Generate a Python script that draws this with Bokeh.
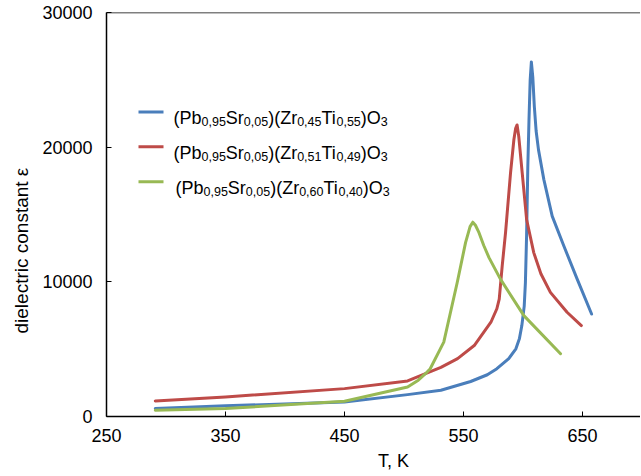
import math
from bokeh.plotting import figure
from bokeh.models import Label, Span, FixedTicker, Range1d, Title
from bokeh.embed import file_html
from bokeh.resources import INLINE

# ---- data ----
blue_T = [291, 350, 450, 503, 531, 556, 570, 578, 588, 594, 597, 599, 601, 602, 603, 604,
          605, 606, 607, 608.2, 609.5, 611, 613, 617.5, 624.5, 634.3, 645.5, 657.6]
blue_eps = [590, 790, 1085, 1625, 1945, 2600, 3100, 3550, 4300, 5030, 5800, 6750, 8200, 9960,
            13500, 18500, 22000, 25000, 26330, 25200, 23000, 21200, 19800, 17590, 14880,
            12660, 10200, 7610]

red_T = [291, 350, 450, 503, 518, 531, 545, 559, 573, 578, 580, 582.5, 585.3, 589.5, 592.3,
         593.8, 595, 596.4, 599.3, 603, 609, 615, 623, 637, 649]
red_eps = [1160, 1455, 2070, 2640, 3180, 3650, 4300, 5270, 7000, 8000, 8720, 11180, 13650,
           18100, 20550, 21400, 21650, 20800, 18090, 14630, 12170, 10600, 9220, 7740, 6750]

green_T = [291, 350, 450, 503, 512, 518, 522, 533.4, 544.7, 551.7, 555.5, 557.8, 560, 563,
           567, 571.4, 581, 600.7, 631.5]
green_eps = [465, 590, 1130, 2190, 2700, 3180, 3550, 5520, 9950, 12910, 14100, 14430, 14200,
             13650, 12700, 11800, 10200, 7490, 4660]

x_ticks = [250, 350, 450, 550, 650]
y_ticks = [0, 10000, 20000, 30000]

x_title = "T, K"
y_title = "dielectric constant ε"

# legend pieces: (text, is_subscript)
legend_entries = [
    [("(Pb", 0), ("0,95", 1), ("Sr", 0), ("0,05", 1), (")(Zr", 0), ("0,45", 1), ("Ti", 0), ("0,55", 1), (")O", 0), ("3", 1)],
    [("(Pb", 0), ("0,95", 1), ("Sr", 0), ("0,05", 1), (")(Zr", 0), ("0,51", 1), ("Ti", 0), ("0,49", 1), (")O", 0), ("3", 1)],
    [("(Pb", 0), ("0,95", 1), ("Sr", 0), ("0,05", 1), (")(Zr", 0), ("0,60", 1), ("Ti", 0), ("0,40", 1), (")O", 0), ("3", 1)],
]
colors = ["#4A7EBB", "#BE4B48", "#98B954"]

X0, X1 = 250, 698.7
Y0, Y1 = 0, 30000
FL, FT, FW, FH = 106, 12, 534, 406   # frame in canvas px
CW, CH = 640, 474

def px_x(px):
    return X0 + (px - FL) * (X1 - X0) / FW

def px_y(py):
    return Y0 + (FT + FH - py) * (Y1 - Y0) / FH

p = figure(width=CW, height=CH, x_range=Range1d(X0, X1), y_range=Range1d(Y0, Y1),
           output_backend="svg", toolbar_location=None,
           min_border_left=FL, min_border_right=CW - FL - FW, min_border_top=FT,
           min_border_bottom=CH - FT - FH)
p.outline_line_color = None
p.grid.visible = False
p.background_fill_color = "white"
p.border_fill_color = "white"

for ax in (p.xaxis[0], p.yaxis[0]):
    ax.axis_line_color = "black"
    ax.axis_line_width = 1.5
    ax.major_tick_in = 5
    ax.major_tick_out = 0
    ax.major_tick_line_color = "black"
    ax.minor_tick_line_color = None
    ax.major_label_text_font = "Liberation Sans"
    ax.major_label_text_font_size = "18px"
    ax.major_label_text_color = "black"
p.xaxis.ticker = FixedTicker(ticks=x_ticks)
p.yaxis.ticker = FixedTicker(ticks=y_ticks)
p.xaxis.major_label_standoff = 12
p.yaxis.major_label_standoff = 14

p.add_layout(Span(location=Y1, dimension="width", line_color="black", line_width=1.5))

for T, e, c in ((blue_T, blue_eps, colors[0]), (red_T, red_eps, colors[1]), (green_T, green_eps, colors[2])):
    p.line(T, e, line_color=c, line_width=3, line_join="round", line_cap="round")

# legend (manual, with subscripts)
W = {'(': 333, ')': 333, 'P': 667, 'b': 556, 'S': 667, 'r': 333, 'Z': 611, 'T': 611,
     'i': 222, 'O': 778, ',': 278, ' ': 278, 'K': 667}
def width(s, size):
    return sum(W.get(ch, 556) for ch in s) * size / 1000.0

# axis titles
p.add_layout(Title(text=x_title, text_font="Liberation Sans", text_font_size="18px",
                   text_font_style="normal", text_color="black", align="left",
                   offset=394 - FL - width(x_title, 18) / 2, standoff=8), "below")
p.add_layout(Title(text=y_title, text_font="Liberation Sans", text_font_size="19px",
                   text_font_style="normal", text_color="black", align="left",
                   offset=FT + FH - 335, standoff=16), "left")

MS, SS = 18, 12.5
rows_y = [112, 147, 182]
text_x0 = [173, 173, 175]
for entry, c, ly, tx in zip(legend_entries, colors, rows_y, text_x0):
    p.line([px_x(138), px_x(163)], [px_y(ly), px_y(ly)], line_color=c, line_width=3)
    off = 0.0
    for txt, sub in entry:
        size = SS if sub else MS
        base = ly + (10 if sub else 6)
        p.add_layout(Label(x=px_x(tx), y=px_y(base), x_offset=off, text=txt,
                           text_font="Liberation Sans", text_font_size=f"{size}px",
                           text_baseline="alphabetic", text_align="left", text_color="black"))
        off += width(txt, size)

open("out.html", "w").write(file_html(p, INLINE))
